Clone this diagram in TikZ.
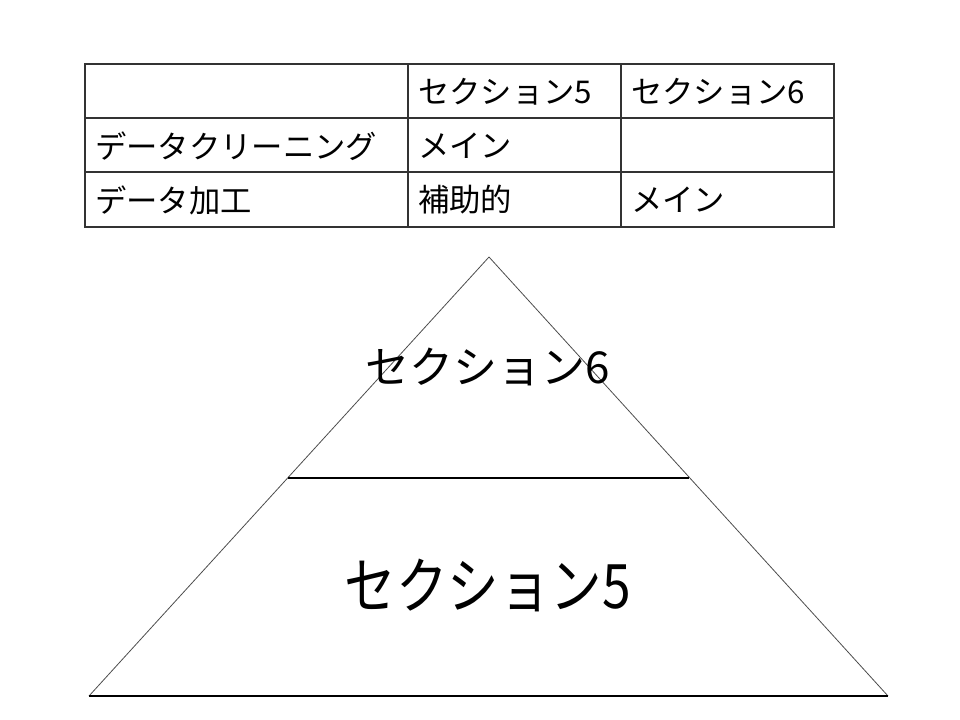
\documentclass[tikz,border=0pt]{standalone}
\usepackage{fontspec}
\setmainfont{Noto Sans CJK JP}
\begin{document}
\begin{tikzpicture}[x=0.75pt,y=-0.75pt,
  cell/.style={anchor=west,inner sep=0pt,font=\fontsize{23.5}{26}\selectfont},
  grid/.style={draw=black!80,line width=0.8pt},
  tri/.style={draw=black!70,line width=0.6pt},
  big/.style={inner sep=0pt,font=\fontsize{33}{36}\selectfont},
  bigger/.style={inner sep=0pt,font=\fontsize{46}{50}\selectfont}]
\useasboundingbox (0,0) rectangle (960,720);
% table
\draw[grid] (85,64) rectangle (834,227);
\draw[grid] (85,118) -- (834,118);
\draw[grid] (85,172) -- (834,172);
\draw[grid] (408,64) -- (408,227);
\draw[grid] (621,64) -- (621,227);
\node[cell] (h1) at (418,92) {セクション5};
\node[cell] (h2) at (631,92) {セクション6};
\node[cell] (r1) at (95,146) {データクリーニング};
\node[cell] (r1a) at (418,146) {メイン};
\node[cell] (r2) at (95,200) {データ加工};
\node[cell] (r2a) at (418,200) {補助的};
\node[cell] (r2b) at (631,200) {メイン};
% pyramid
\draw[tri] (489,257) -- (888,696);
\draw[tri] (489,257) -- (89,696);
\draw[draw=black,line width=0.8pt] (89,696) -- (888,696);
\draw[draw=black,line width=0.8pt] (288,478) -- (689,478);
\node[big] (s6) at (488,367) {セクション6};
\node[bigger,xscale=0.84] (s5) at (488,585) {セクション5};
\end{tikzpicture}
\end{document}
